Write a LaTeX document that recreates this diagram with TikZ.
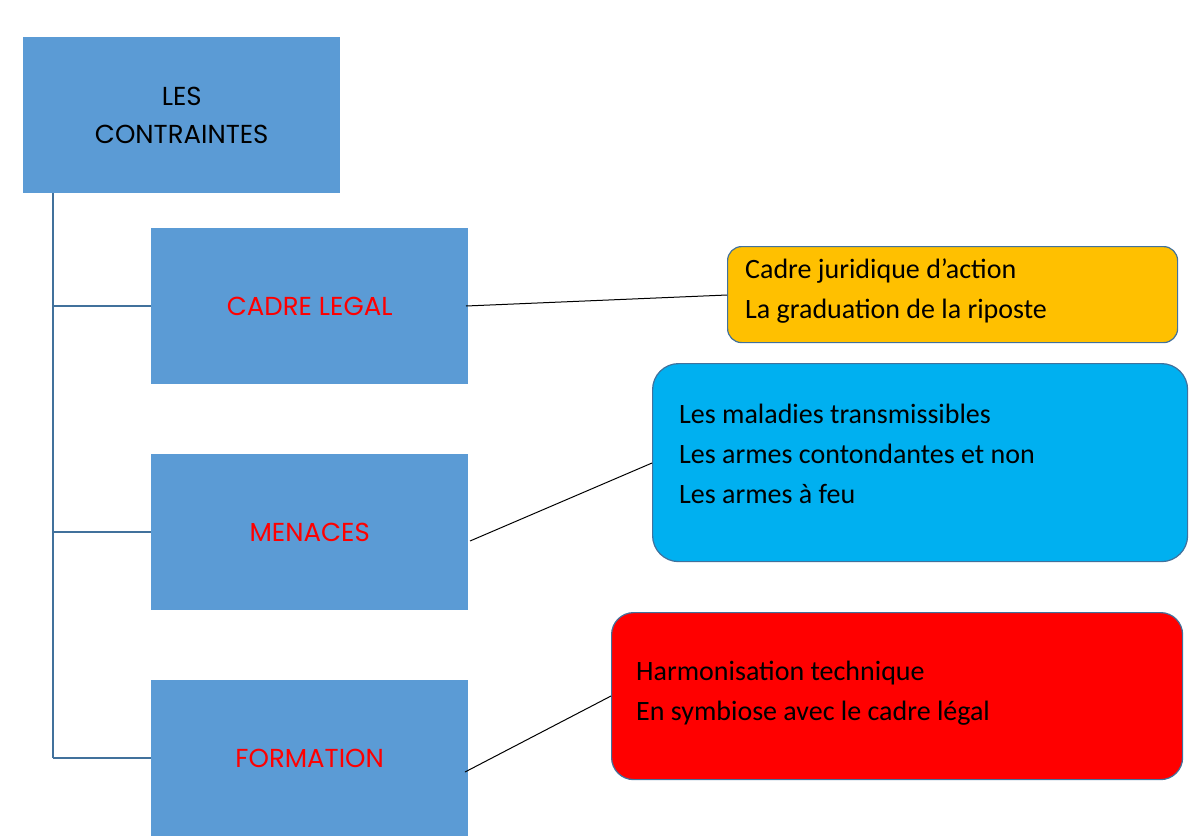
\documentclass[tikz,border=0pt]{standalone}
\usepackage{fontspec}
\setmainfont{Carlito}
\newfontfamily\hand{Poppins}
\definecolor{boxblue}{HTML}{5B9BD5}
\definecolor{edgeblue}{HTML}{41719C}
\definecolor{orangef}{HTML}{FFC000}
\definecolor{cyanf}{HTML}{00B0F0}
\begin{document}
\begin{tikzpicture}[x=1pt,y=-1pt,
  bluebox/.style={fill=boxblue,draw=none,minimum width=317pt,minimum height=156pt,anchor=north west,inner sep=0pt,font=\hand\fontsize{26}{38}\selectfont,align=center},
  infobox/.style={draw=edgeblue,line width=1.2pt,rounded corners=14pt,anchor=north west,inner sep=0pt},
  infotext/.style={anchor=north west,align=left,font=\fontsize{28}{40}\selectfont,inner sep=0pt},
  tree/.style={draw=edgeblue,line width=1.2pt},
  link/.style={draw=black,line width=1pt}]
\useasboundingbox (0,0) rectangle (1197,839);
\node[bluebox] (root) at (23,37) {LES\\CONTRAINTES};
\node[bluebox,text=red] (cadre) at (151,228) {CADRE LEGAL};
\node[bluebox,text=red] (men) at (151,454) {MENACES};
\node[bluebox,text=red] (form) at (151,680) {FORMATION};
\coordinate (t0) at (53,193);
\coordinate (t1) at (53,306);
\coordinate (t2) at (53,532);
\coordinate (t3) at (53,758);
\draw[tree] (t0) -- (t3);
\draw[tree] (t1) -- (cadre.west |- t1);
\draw[tree] (t2) -- (men.west |- t2);
\draw[tree] (t3) -- (form.west |- t3);
\node[infobox,fill=orangef,minimum width=450pt,minimum height=96pt] (b1) at (727,246) {};
\node[infobox,fill=cyanf,minimum width=535pt,minimum height=198pt,rounded corners=26pt] (b2) at (652,363) {};
\node[infobox,fill=red,minimum width=571pt,minimum height=167pt,rounded corners=22pt] (b3) at (611,612) {};
\node[infotext] (x1) at (745,259) {Cadre juridique d’action\\La graduation de la riposte};
\node[infotext] (x2) at (679,404) {Les maladies transmissibles\\Les armes contondantes et non\\Les armes à feu};
\node[infotext] (x3) at (636,661) {Harmonisation technique\\En symbiose avec le cadre légal};
\coordinate (c1) at (466,306); \coordinate (c2) at (470,541); \coordinate (c3) at (465,772);
\draw[link] (c1) -- (b1.west |- 0,295);
\draw[link] (c2) -- (b2.west |- 0,463);
\draw[link] (c3) -- (b3.west |- 0,696);
\end{tikzpicture}
\end{document}
